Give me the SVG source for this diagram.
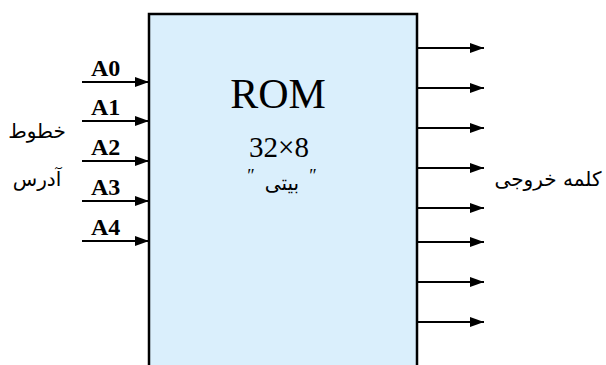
<svg xmlns="http://www.w3.org/2000/svg" width="606" height="365" viewBox="0 0 606 365">
<defs>
<marker id="ah" viewBox="0 0 14 10" refX="14" refY="5" markerWidth="14" markerHeight="10" markerUnits="userSpaceOnUse" orient="auto">
<path d="M0,0 L14,5 L0,10 Z" fill="#000"/>
</marker>
<style>
.w{stroke:#000;stroke-width:2;fill:none;marker-end:url(#ah)}
.lbl{font-family:"Liberation Serif",serif;font-weight:bold;font-size:24px;fill:#000}
.fa{font-family:"DejaVu Sans","Noto Sans",sans-serif;font-size:20px;fill:#000}
.ser{font-family:"Liberation Serif",serif;fill:#000}
</style>
</defs>
<rect width="606" height="365" fill="#fff"/>
<g id="rom">
<path d="M149,366 L149,14 L417,14 L417,366" fill="#daeffc" stroke="#000" stroke-width="2.5"/>
<text class="ser" x="278" y="108" font-size="42" text-anchor="middle">ROM</text>
<text class="ser" x="279" y="157" font-size="29" text-anchor="middle">32×8</text>
<text class="ser" x="251" y="182" font-size="18" text-anchor="middle">″</text>
<text class="fa" x="282" y="190" font-size="22" text-anchor="middle" direction="rtl">بیتی</text>
<text class="ser" x="313" y="182" font-size="18" text-anchor="middle">″</text>
</g>
<g id="address-label">
<text class="fa" x="37" y="138" text-anchor="middle" direction="rtl">خطوط</text>
<text class="fa" x="37" y="186" text-anchor="middle" direction="rtl">آدرس</text>
</g>
<g id="output-label">
<text class="fa" x="548" y="186" font-size="21" text-anchor="middle" direction="rtl">کلمه خروجی</text>
</g>
<g id="input-labels">
<text class="lbl" x="91" y="76">A0</text>
<text class="lbl" x="91" y="115">A1</text>
<text class="lbl" x="91" y="155">A2</text>
<text class="lbl" x="91" y="195">A3</text>
<text class="lbl" x="91" y="235">A4</text>
</g>
<g id="connectors">
<line class="w" x1="82" y1="82" x2="149" y2="82"/>
<line class="w" x1="82" y1="121" x2="149" y2="121"/>
<line class="w" x1="82" y1="161" x2="149" y2="161"/>
<line class="w" x1="82" y1="201" x2="149" y2="201"/>
<line class="w" x1="82" y1="241" x2="149" y2="241"/>
<line class="w" x1="417" y1="48" x2="484" y2="48"/>
<line class="w" x1="417" y1="88" x2="484" y2="88"/>
<line class="w" x1="417" y1="128" x2="484" y2="128"/>
<line class="w" x1="417" y1="168" x2="484" y2="168"/>
<line class="w" x1="417" y1="208" x2="484" y2="208"/>
<line class="w" x1="417" y1="242" x2="484" y2="242"/>
<line class="w" x1="417" y1="282" x2="484" y2="282"/>
<line class="w" x1="417" y1="322" x2="484" y2="322"/>
</g>
</svg>
